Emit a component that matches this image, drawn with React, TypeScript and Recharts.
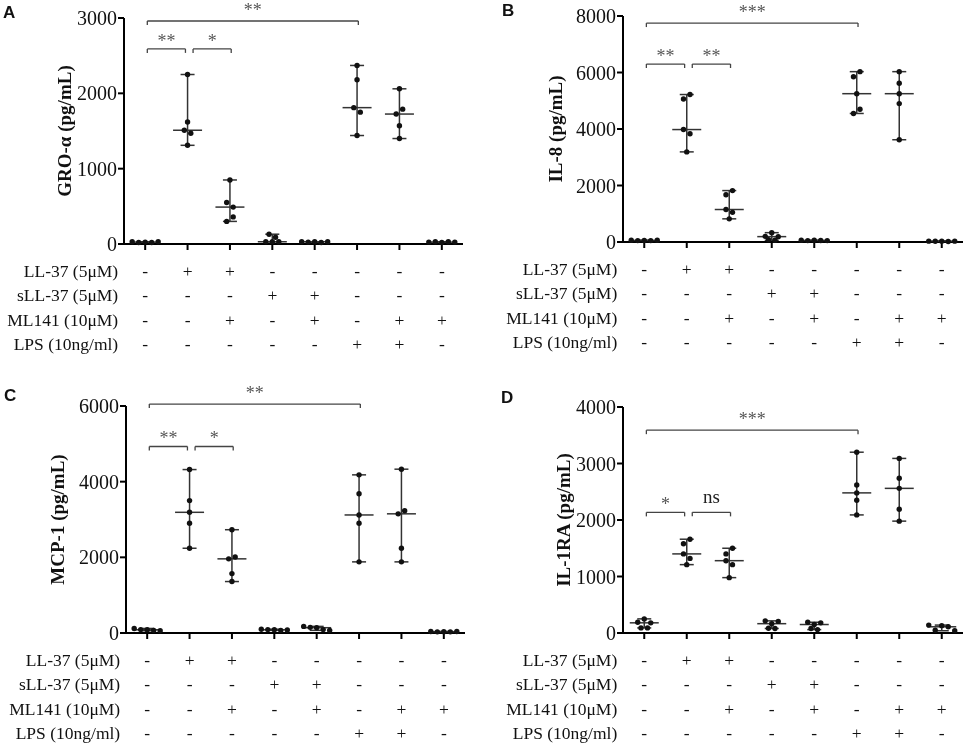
import { ScatterChart, Scatter, XAxis, YAxis, ErrorBar, ReferenceLine } from 'recharts';

const groups = [1, 2, 3, 4, 5, 6, 7, 8];

const rowLabels = ['LL-37 (5μM)', 'sLL-37 (5μM)', 'ML141 (10μM)', 'LPS (10ng/ml)'];
const ll37 = ['-', '+', '+', '-', '-', '-', '-', '-'];
const sll37 = ['-', '-', '-', '+', '+', '-', '-', '-'];
const ml141 = ['-', '-', '+', '-', '+', '-', '+', '+'];
const lps = ['-', '-', '-', '-', '-', '+', '+', '-'];
const signRows = [ll37, sll37, ml141, lps];

// pg/mL, five values per condition (one list per group, same order as the table)
const groAlpha = [
  [30, 20, 25, 20, 30],
  [2250, 1620, 1510, 1470, 1310],
  [850, 550, 490, 300, 360],
  [130, 90, 30, 30, 30],
  [30, 25, 30, 20, 30],
  [2370, 2180, 1810, 1750, 1440],
  [2060, 1725, 1790, 1570, 1400],
  [25, 30, 20, 30, 25],
];

const il8 = [
  [60, 50, 55, 50, 60],
  [5060, 5220, 3980, 3830, 3190],
  [1670, 1820, 1150, 1050, 820],
  [200, 330, 190, 80, 60],
  [60, 50, 60, 55, 50],
  [5850, 6030, 5250, 4550, 4700],
  [6030, 5620, 5250, 4900, 3620],
  [30, 25, 30, 20, 30],
];

const mcp1 = [
  [120, 90, 85, 70, 60],
  [4320, 3500, 3190, 2900, 2240],
  [2730, 1960, 2010, 1570, 1360],
  [100, 90, 85, 70, 80],
  [175, 150, 140, 90, 70],
  [4180, 3680, 3120, 2900, 1880],
  [4330, 3150, 3230, 2240, 1880],
  [40, 30, 35, 30, 40],
];

const il1ra = [
  [190, 250, 180, 90, 90],
  [1580, 1660, 1400, 1320, 1210],
  [1400, 1500, 1280, 1210, 980],
  [215, 165, 205, 85, 80],
  [190, 150, 180, 80, 60],
  [3200, 2620, 2480, 2350, 2090],
  [3090, 2740, 2560, 2190, 1980],
  [140, 50, 130, 110, 40],
];

// significance brackets: groups compared, height (pg/mL), mark
const groBrackets = [
  { from: 1, to: 2, level: 2590, text: '**' },
  { from: 2, to: 3, level: 2590, text: '*' },
  { from: 1, to: 6, level: 2960, text: '**' },
];
const il8Brackets = [
  { from: 1, to: 2, level: 6300, text: '**' },
  { from: 2, to: 3, level: 6300, text: '**' },
  { from: 1, to: 6, level: 7750, text: '***' },
];
const mcpBrackets = [
  { from: 1, to: 2, level: 4930, text: '**' },
  { from: 2, to: 3, level: 4930, text: '*' },
  { from: 1, to: 6, level: 6050, text: '**' },
];
const il1raBrackets = [
  { from: 1, to: 2, level: 2135, text: '*' },
  { from: 2, to: 3, level: 2135, text: 'ns' },
  { from: 1, to: 6, level: 3590, text: '***' },
];

const SERIF = '"Liberation Serif", "Times New Roman", serif';
const INK = '#111';
const LINE = '#333';
const ROW_GAP = 6; // px: points closer than this share a row
const DOT_STEP = 6.5; // px between dots in a row
const X_AXIS_H = 115;
const YAXIS_W = 60;

const panels = [
  { letter: 'A', label: 'GRO-α (pg/mL)', values: groAlpha, yMax: 3000, yTicks: [0, 1000, 2000, 3000], brackets: groBrackets,
    left: 0, top: 0, width: 482, plotLeft: 124, plotTop: 18, plotWidth: 339, plotHeight: 226, labelX: 64, letterX: 3, letterY: 5 },
  { letter: 'B', label: 'IL-8 (pg/mL)', values: il8, yMax: 8000, yTicks: [0, 2000, 4000, 6000, 8000], brackets: il8Brackets,
    left: 480, top: 0, width: 485, plotLeft: 143, plotTop: 16, plotWidth: 340, plotHeight: 226, labelX: 75, letterX: 22, letterY: 3 },
  { letter: 'C', label: 'MCP-1 (pg/mL)', values: mcp1, yMax: 6000, yTicks: [0, 2000, 4000, 6000], brackets: mcpBrackets,
    left: 0, top: 372, width: 482, plotLeft: 126, plotTop: 34, plotWidth: 339, plotHeight: 227, labelX: 57, letterX: 4, letterY: 16 },
  { letter: 'D', label: 'IL-1RA (pg/mL)', values: il1ra, yMax: 4000, yTicks: [0, 1000, 2000, 3000, 4000], brackets: il1raBrackets,
    left: 480, top: 372, width: 485, plotLeft: 143, plotTop: 35, plotWidth: 340, plotHeight: 226, labelX: 83, letterX: 21, letterY: 18 },
];

// GraphPad-style scatter: points at similar heights are spread in a centred row
function swarm(values: number[], pxPerValue: number) {
  const order = values.map((_, i) => i).sort((a, b) => values[b] - values[a]);
  const rows: number[][] = [];
  let top = Infinity;
  order.forEach((i) => {
    const px = values[i] * pxPerValue;
    if (rows.length && top - px < ROW_GAP) rows[rows.length - 1].push(i);
    else {
      rows.push([i]);
      top = px;
    }
  });
  const offsets = values.map(() => 0);
  rows.forEach((row) => {
    row.sort((a, b) => a - b);
    row.forEach((i, k) => {
      offsets[i] = (k - (row.length - 1) / 2) * DOT_STEP;
    });
  });
  return offsets;
}

function median(vals: number[]) {
  const s = [...vals].sort((a, b) => a - b);
  return s[Math.floor(s.length / 2)];
}

const Dot = (p: any) => <circle cx={p.cx} cy={p.cy} r={2.7} fill={INK} />;
const MedianLine = (p: any) => (
  <line x1={p.cx - 14.5} x2={p.cx + 14.5} y1={p.cy} y2={p.cy} stroke={LINE} strokeWidth={1.5} />
);

function SignTick(props: any) {
  const { x, y, index } = props;
  return (
    <g fontFamily={SERIF} fontSize={17.5} fill={INK}>
      {signRows.map((row, r) => (
        <text key={r} x={x} y={y + 24.5 + r * 24.5} textAnchor="middle" fill={INK}>
          {row[index]}
        </text>
      ))}
      {index === 0 &&
        rowLabels.map((lab, r) => (
          <text key={'l' + r} x={x - 27} y={y + 24.5 + r * 24.5} textAnchor="end" fill={INK}>
            {lab}
          </text>
        ))}
    </g>
  );
}

function Panel({ cfg }: { cfg: (typeof panels)[number] }) {
  const pxPerValue = cfg.plotHeight / cfg.yMax;
  const pxPerGroup = cfg.plotWidth / groups.length;
  const points = cfg.values.flatMap((vals, g) => {
    const offs = swarm(vals, pxPerValue);
    return vals.map((v, i) => ({ x: groups[g] + offs[i] / pxPerGroup, y: v }));
  });
  const medians = cfg.values.map((vals, g) => {
    const m = median(vals);
    return { x: groups[g], y: m, range: [m - Math.min(...vals), Math.max(...vals) - m] };
  });
  const drop = 4 / pxPerValue;
  const height = cfg.plotTop + cfg.plotHeight + X_AXIS_H;

  const bracketLines = cfg.brackets.flatMap((b, k) => {
    const x1 = b.from + (b.from === 1 ? 0.05 : 0.13);
    const x2 = b.to + (b.to === 2 ? -0.05 : 0.03);
    const offset = b.text === 'ns' ? 9 : b.to === 6 ? 5 : 2;
    const common = { stroke: '#444', strokeWidth: 1.3, ifOverflow: 'visible' as const };
    return [
      <ReferenceLine
        key={'h' + k}
        {...common}
        segment={[{ x: x1, y: b.level }, { x: x2, y: b.level }]}
        label={{
          value: b.text,
          position: 'top',
          offset,
          fill: b.text === 'ns' ? '#222' : '#555',
          fontSize: b.text === 'ns' ? 19 : 18,
          fontFamily: SERIF,
        }}
      />,
      <ReferenceLine key={'a' + k} {...common} segment={[{ x: x1, y: b.level }, { x: x1, y: b.level - drop }]} />,
      <ReferenceLine key={'b' + k} {...common} segment={[{ x: x2, y: b.level }, { x: x2, y: b.level - drop }]} />,
    ];
  });

  return (
    <div style={{ position: 'absolute', left: cfg.left, top: cfg.top, width: cfg.width, height, willChange: 'transform' }}>
      <div
        style={{
          position: 'absolute',
          left: cfg.letterX,
          top: cfg.letterY - 1,
          font: 'bold 17px "Liberation Sans", Arial, sans-serif',
          lineHeight: '17px',
          color: INK,
        }}
      >
        {cfg.letter}
      </div>
      <ScatterChart
        width={cfg.width}
        height={height}
        margin={{ top: cfg.plotTop, left: cfg.plotLeft - YAXIS_W, right: cfg.width - cfg.plotLeft - cfg.plotWidth, bottom: 0 }}
      >
        <XAxis
          type="number"
          dataKey="x"
          domain={[0.5, 8.5]}
          ticks={groups}
          interval={0}
          height={X_AXIS_H}
          axisLine={{ stroke: '#000', strokeWidth: 2 }}
          tickLine={{ stroke: '#000', strokeWidth: 2 }}
          tickSize={6}
          tick={<SignTick />}
        />
        <YAxis
          type="number"
          dataKey="y"
          domain={[0, cfg.yMax]}
          ticks={cfg.yTicks}
          interval={0}
          width={YAXIS_W}
          axisLine={{ stroke: '#000', strokeWidth: 2 }}
          tickLine={{ stroke: '#000', strokeWidth: 2 }}
          tickSize={6}
          tickMargin={1}
          tick={{ fontFamily: SERIF, fontSize: 20, fill: INK }}
          label={() => {
            const cy = cfg.plotTop + cfg.plotHeight / 2;
            return (
              <text
                x={cfg.labelX}
                y={cy}
                transform={`rotate(-90, ${cfg.labelX}, ${cy})`}
                textAnchor="middle"
                dominantBaseline="central"
                fontFamily={SERIF}
                fontWeight="bold"
                fontSize={19}
                fill={INK}
              >
                {cfg.label}
              </text>
            );
          }}
        />
        {bracketLines}
        <Scatter data={medians} shape={MedianLine} isAnimationActive={false}>
          <ErrorBar dataKey="range" direction="y" width={7} stroke={LINE} strokeWidth={1.5} isAnimationActive={false} />
        </Scatter>
        <Scatter data={points} shape={Dot} isAnimationActive={false} />
      </ScatterChart>
    </div>
  );
}

export default function App() {
  return (
    <div style={{ position: 'absolute', left: 0, top: 0, width: 965, height: 746, background: '#fff', overflow: 'hidden' }}>
      {panels.map((cfg) => (
        <Panel key={cfg.letter} cfg={cfg} />
      ))}
    </div>
  );
}
